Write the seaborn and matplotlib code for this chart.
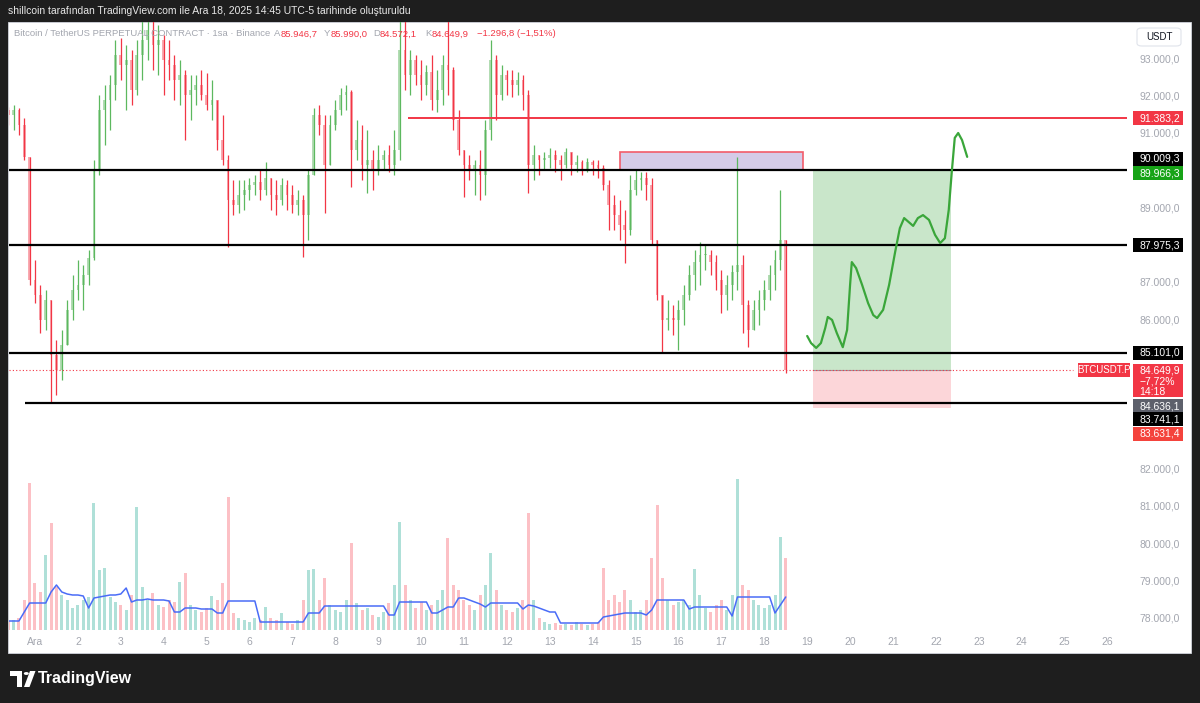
import numpy as np
import pandas as pd
import matplotlib

matplotlib.use("Agg")
import matplotlib.pyplot as plt
from matplotlib.patches import Rectangle, Polygon, Circle, FancyBboxPatch
import seaborn as sns

# BTCUSDT.P, 3-hour candles (prices in thousands USDT)
first_open = 91.60
closes = [
    91.47, 91.61, 91.20, 90.35, 87.05, 86.65, 85.98, 86.51, 85.04, 84.64,
    85.31, 86.25, 86.78, 86.92, 87.18, 87.64, 90.00, 91.61, 91.87, 92.28,
    93.08, 92.81, 92.95, 92.14, 93.08, 93.48, 93.75, 93.35, 93.48, 92.95,
    92.81, 92.41, 92.54, 92.01, 92.14, 92.28, 92.01, 91.74, 91.87, 90.80,
    90.27, 89.19, 89.06, 89.33, 89.46, 89.60, 89.68, 89.46, 89.78, 89.33,
    89.19, 89.60, 89.33, 89.06, 89.19, 88.79, 89.86, 91.47, 91.20, 90.13,
    91.20, 91.61, 92.01, 92.09, 90.53, 90.80, 90.13, 90.27, 90.00, 90.27,
    90.40, 90.13, 90.53, 93.21, 92.54, 92.95, 92.54, 92.28, 92.62, 91.87,
    92.14, 92.81, 92.68, 91.34, 90.53, 90.13, 90.00, 90.13, 89.86, 91.07,
    92.95, 92.01, 92.54, 92.41, 92.28, 92.41, 92.01, 90.13, 90.40, 90.27,
    90.32, 90.40, 90.27, 90.13, 90.48, 90.13, 90.21, 90.00, 90.21, 90.13,
    90.05, 89.60, 89.06, 88.79, 88.52, 88.39, 89.46, 89.73, 89.78, 89.60,
    88.12, 86.65, 85.98, 86.03, 85.98, 86.25, 86.65, 87.18, 87.53, 87.72,
    87.72, 87.53, 87.05, 86.65, 86.92, 87.26, 87.45, 86.38, 85.71, 86.25,
    86.51, 86.78, 87.18, 87.59, 88.12, 84.65,
]
highs = [
    91.69, 91.74, 91.66, 91.39, 90.35, 87.59, 86.92, 86.78, 86.51, 85.44,
    85.71, 86.51, 87.18, 87.59, 87.45, 87.85, 90.27, 92.01, 92.28, 92.54,
    93.48, 93.54, 93.35, 93.21, 93.48, 94.29, 94.42, 94.02, 93.88, 93.62,
    93.48, 93.08, 92.95, 92.68, 92.54, 92.54, 92.68, 92.60, 92.41, 91.87,
    91.47, 90.40, 89.73, 89.73, 89.73, 89.78, 89.86, 90.00, 90.21, 89.78,
    89.73, 89.78, 89.73, 89.60, 89.46, 89.33, 90.00, 91.66, 91.74, 91.47,
    91.47, 91.87, 92.20, 92.28, 92.14, 91.34, 91.20, 91.07, 90.53, 90.67,
    90.53, 90.67, 91.07, 94.42, 94.29, 93.21, 93.08, 92.95, 92.81, 93.08,
    92.68, 93.08, 94.55, 92.75, 91.61, 90.53, 90.40, 90.27, 90.53, 91.34,
    93.48, 93.08, 92.81, 92.68, 92.68, 92.62, 92.54, 92.14, 90.67, 90.40,
    90.48, 90.59, 90.53, 90.40, 90.59, 90.48, 90.40, 90.27, 90.32, 90.27,
    90.27, 90.13, 89.73, 89.33, 89.19, 88.93, 89.86, 90.00, 89.94, 89.94,
    89.78, 88.12, 86.65, 86.51, 86.38, 86.51, 86.92, 87.45, 87.85, 88.07,
    87.99, 87.85, 87.72, 87.32, 87.18, 87.45, 90.35, 87.72, 86.51, 86.51,
    86.78, 87.05, 87.45, 87.85, 89.46, 88.12,
]
lows = [
    91.20, 91.07, 90.94, 90.27, 86.92, 86.43, 85.63, 85.71, 83.75, 83.97,
    84.37, 85.31, 85.98, 86.51, 86.25, 86.92, 87.59, 89.86, 90.67, 91.07,
    91.87, 92.41, 91.61, 91.74, 92.01, 92.41, 92.95, 92.68, 92.54, 92.01,
    92.41, 91.87, 91.74, 90.80, 91.34, 91.74, 91.87, 91.61, 91.34, 90.53,
    90.13, 87.93, 88.79, 88.85, 88.93, 89.19, 89.33, 89.19, 89.33, 88.93,
    88.79, 89.06, 88.93, 88.85, 88.79, 87.67, 88.12, 89.86, 90.94, 88.85,
    90.13, 91.07, 91.47, 91.61, 89.54, 90.27, 89.73, 89.38, 89.46, 89.86,
    90.00, 89.94, 89.86, 90.27, 92.14, 92.01, 92.28, 91.87, 92.01, 91.61,
    91.55, 91.74, 92.01, 91.07, 90.40, 89.27, 89.73, 89.33, 89.19, 89.33,
    90.80, 91.34, 91.87, 92.01, 91.95, 92.01, 91.61, 89.38, 89.73, 89.86,
    90.00, 90.05, 89.94, 89.73, 90.05, 89.86, 89.94, 89.86, 89.94, 89.86,
    89.78, 89.46, 88.39, 88.39, 88.12, 87.51, 88.26, 89.33, 89.46, 89.19,
    87.99, 86.51, 85.09, 85.71, 85.58, 85.17, 85.84, 86.51, 86.78, 86.92,
    87.32, 87.18, 86.78, 86.17, 86.25, 86.51, 86.78, 85.63, 85.25, 85.71,
    85.84, 86.25, 86.51, 86.78, 87.32, 84.56,
]
volumes = [
    9, 10, 12, 30, 147, 47, 38, 75, 107, 43,
    35, 30, 22, 25, 30, 33, 127, 60, 62, 33,
    28, 25, 20, 35, 123, 43, 30, 37, 25, 23,
    30, 28, 48, 57, 25, 20, 18, 22, 34, 30,
    47, 133, 17, 12, 10, 8, 12, 10, 23, 12,
    10, 17, 8, 6, 10, 30, 60, 61, 30, 52,
    25, 20, 18, 30, 87, 27, 20, 22, 15, 13,
    18, 27, 45, 108, 45, 30, 22, 28, 20, 25,
    30, 40, 92, 45, 40, 30, 25, 20, 35, 45,
    77, 40, 25, 20, 18, 22, 30, 117, 30, 12,
    8, 6, 7, 5, 6, 5, 8, 6, 5, 6,
    8, 62, 30, 35, 28, 40, 30, 18, 20, 30,
    72, 125, 52, 30, 25, 28, 30, 25, 61, 35,
    22, 18, 25, 30, 20, 35, 151, 45, 40, 30,
    25, 22, 25, 35, 93, 72,
]
volume_ma = [
    9, 9, 9, 18, 27, 27, 27, 27, 38, 45,
    38, 36, 35, 35, 34, 22, 32, 33, 34, 35,
    35, 36, 42, 28, 30, 30, 31, 30, 30, 30,
    29, 18, 18, 22, 22, 22, 21, 21, 21, 17,
    17, 29, 29, 29, 29, 29, 29, 8, 8, 8,
    8, 8, 8, 8, 8, 8, 17, 17, 17, 24,
    24, 24, 24, 24, 24, 24, 24, 24, 24, 24,
    24, 15, 15, 28, 28, 28, 28, 28, 28, 17,
    17, 20, 23, 23, 32, 32, 30, 28, 26, 23,
    27, 27, 27, 27, 27, 27, 21, 25, 24, 22,
    20, 18, 18, 7, 7, 7, 7, 7, 7, 7,
    7, 13, 14, 15, 16, 17, 17, 17, 17, 15,
    20, 30, 30, 30, 30, 30, 30, 21, 23, 23,
    23, 23, 23, 23, 23, 14, 33, 33, 33, 33,
    33, 33, 33, 17, 25, 33,
]

# drawn levels
black_levels = [90009.3, 87975.3, 85101.0]
bottom_level = 83741.1
bottom_level_start = 0.77
red_level = 91383.2
red_level_start = 9.70
last_price = 84649.9
zone_days = (14.64, 18.90)
zone_prices = (90009.3, 90480.0)
long_days = (19.14, 22.35)
long_target = 89966.3
long_entry = 84636.1
long_stop = 83631.4

# hand-drawn projection path (day, price in thousands)
proj_days = [19.00, 19.09, 19.21, 19.32, 19.42, 19.48, 19.58, 19.69, 19.83, 19.93,
             20.00, 20.04, 20.14, 20.28, 20.42, 20.54, 20.63, 20.77, 20.91, 21.05,
             21.16, 21.26, 21.37, 21.47, 21.58, 21.70, 21.84, 21.98, 22.10, 22.21,
             22.30, 22.37, 22.44, 22.52, 22.61, 22.73]
proj_prices = [85.55, 85.36, 85.23, 85.36, 85.76, 86.06, 85.98, 85.63, 85.25, 85.71,
               86.92, 87.53, 87.37, 86.92, 86.43, 86.11, 86.03, 86.25, 86.92, 87.80,
               88.44, 88.71, 88.60, 88.50, 88.71, 88.79, 88.66, 88.26, 88.04, 88.17,
               88.93, 89.94, 90.86, 90.99, 90.80, 90.35]

day_ticks = list(range(1, 27))
day_labels = ["Ara"] + [str(d) for d in range(2, 27)]
price_ticks = [78000, 79000, 80000, 81000, 82000, 86000, 87000, 89000, 91000, 92000, 93000]

W, H = 1200, 703
GREEN_WICK, GREEN_BODY = "#5cb85f", "#b2dcb3"
RED_WICK, RED_BODY = "#f23645", "#f8aab1"
GREY = "#a3a6af"


def tr(v):
    s = f"{v:,.1f}"
    return s.replace(",", "X").replace(".", ",").replace("X", ".")


sns.set_theme(style="white")
plt.rcParams["font.family"] = ["Liberation Sans", "DejaVu Sans"]

times = pd.date_range("2025-11-30 09:00", periods=len(closes), freq="3h")
df = pd.DataFrame({
    "x": (times - pd.Timestamp("2025-11-30")) / pd.Timedelta("1D"),
    "close": np.array(closes) * 1000,
    "high": np.array(highs) * 1000,
    "low": np.array(lows) * 1000,
    "volume": volumes,
    "vol_ma": volume_ma,
})
df["open"] = df["close"].shift(1).fillna(first_open * 1000)
df["high"] = df[["high", "open", "close"]].max(axis=1)
df["low"] = df[["low", "open", "close"]].min(axis=1)
up = (df["close"] >= df["open"]).to_numpy()

fig = plt.figure(figsize=(W / 100, H / 100), dpi=100, facecolor="#1e1e1e")
fig.patches.append(Rectangle((8 / W, 1 - 653 / H), (1191 - 8) / W, (653 - 22) / H,
                             transform=fig.transFigure, facecolor="white",
                             edgecolor="#d1d4dc", lw=0.6, zorder=-1))

ax = fig.add_axes([9 / W, 1 - 630 / H, (1127 - 9) / W, 608 / H])
ax.set_facecolor("none")
xmin, xmax = 0.394, 26.455
ax.set_xlim(xmin, xmax)
ax.set_ylim(77670, 93965)

# volume pane (twin axis, drawn first so the price ticks stay on the right)
vax = ax.twinx()
vax.set_ylim(0, 608)
vax.bar(df["x"], df["volume"], width=0.07, linewidth=0,
        color=np.where(up, "#22ab94", "#f7525f"), alpha=0.36, zorder=1)
sns.lineplot(data=df, x="x", y="vol_ma", ax=vax, color="#4a6cf7", lw=1.1)
vax.set_yticks([])
vax.set_xlabel("")
vax.set_ylabel("")
for s in vax.spines.values():
    s.set_visible(False)

# candles
ax.vlines(df["x"], df["low"], df["high"], colors=np.where(up, GREEN_WICK, RED_WICK), lw=0.9, zorder=3)
body_low = df[["open", "close"]].min(axis=1)
body_h = (df["close"] - df["open"]).abs().clip(lower=25)
ax.bar(df["x"], body_h, bottom=body_low, width=0.065,
       color=np.where(up, GREEN_BODY, RED_BODY), linewidth=0, zorder=2)

# levels
for lv in black_levels:
    ax.hlines(lv, xmin, xmax, color="black", lw=1.6, zorder=4)
ax.hlines(bottom_level, bottom_level_start, xmax, color="black", lw=1.6, zorder=4)
ax.hlines(red_level, red_level_start, xmax, color="#f23645", lw=1.4, zorder=4)
ax.hlines(last_price, xmin, 25.2, color="#f23645", lw=0.8, linestyles=(0, (1, 2)), zorder=4)

# purple zone
ax.add_patch(Rectangle((zone_days[0], zone_prices[0]), zone_days[1] - zone_days[0],
                       zone_prices[1] - zone_prices[0], facecolor="#d5cce8",
                       edgecolor="#f25c6a", lw=1.2, zorder=1))

# long position tool
ax.add_patch(Rectangle((long_days[0], long_entry), long_days[1] - long_days[0],
                       long_target - long_entry, facecolor="#4caf50", alpha=0.3,
                       lw=0, zorder=1))
ax.add_patch(Rectangle((long_days[0], long_stop), long_days[1] - long_days[0],
                       long_entry - long_stop, facecolor="#f23645", alpha=0.2,
                       lw=0, zorder=1))
ax.hlines(long_entry, long_days[0], long_days[1], color="#9598a1", lw=0.8, zorder=2)

# projection
proj = pd.DataFrame({"day": proj_days, "price": np.array(proj_prices) * 1000})
sns.lineplot(data=proj, x="day", y="price", sort=False, ax=ax, color="#3aa63a",
             lw=1.6, zorder=5)

# axes
for s in ax.spines.values():
    s.set_visible(False)
ax.set_xlabel("")
ax.set_ylabel("")
ax.set_xticks(day_ticks)
ax.set_xticklabels(day_labels, color=GREY, fontsize=7.5)
ax.yaxis.set_ticks_position("right")
ax.yaxis.set_label_position("right")
ax.set_yticks(price_ticks)
ax.set_yticklabels([tr(p) for p in price_ticks], color=GREY, fontsize=7.5)
ax.tick_params(axis="x", length=0, pad=5)
ax.tick_params(axis="y", which="both", length=0, pad=9, labelleft=False, labelright=True)
ax.grid(False)


def price_tag(price, lines, color, dy=0):
    y = ax.transData.transform((xmin, price))[1] + dy
    h = 14 if len(lines) == 1 else 33
    top = y + 7
    fig.patches.append(Rectangle((1133 / W, (top - h) / H), 50 / W, h / H,
                                 transform=fig.transFigure, facecolor=color,
                                 lw=0, zorder=5))
    for k, txt in enumerate(lines):
        fig.text(1139 / W, (top - 7 - k * 10.5) / H, txt, color="white",
                 fontsize=7.5, va="center", ha="left", zorder=6)


price_tag(red_level, [tr(red_level)], "#f23645")
price_tag(black_levels[0], [tr(black_levels[0])], "black", dy=11)
price_tag(long_target, [tr(long_target)], "#17a317", dy=-2)
price_tag(black_levels[1], [tr(black_levels[1])], "black")
price_tag(black_levels[2], [tr(black_levels[2])], "black")
price_tag(last_price, [tr(last_price), "−7,72%", "14:18"], "#f23645", dy=-1)
price_tag(long_entry, [tr(long_entry)], "#5d606b", dy=-36)
price_tag(bottom_level, [tr(bottom_level)], "black", dy=-16)
price_tag(long_stop, [tr(long_stop)], "#f4433c", dy=-26)

# symbol label next to the price box
ylp = ax.transData.transform((xmin, last_price))[1]
fig.patches.append(Rectangle((1078 / W, (ylp - 7) / H), 52 / W, 14 / H,
                             transform=fig.transFigure, facecolor="#f23645",
                             lw=0, zorder=5))
fig.text(1104 / W, ylp / H, "BTCUSDT.P", color="white", fontsize=7,
         ha="center", va="center", zorder=6)

# USDT box
fig.patches.append(FancyBboxPatch((1137 / W, 1 - 46 / H), 44 / W, 18 / H,
                                  boxstyle="round,pad=0,rounding_size=0.004",
                                  transform=fig.transFigure, facecolor="white",
                                  edgecolor="#e0e3eb", lw=0.8, zorder=5))
fig.text(1159 / W, 1 - 37 / H, "USDT", color="#131722", fontsize=7,
         ha="center", va="center", zorder=6)

# header and legend
fig.text(8 / W, 1 - 11 / H, "shillcoin tarafından TradingView.com ile Ara 18, 2025 14:45 UTC-5 tarihinde oluşturuldu",
         color="#e8e8e8", fontsize=7.5, va="center")
legend_parts = [
    (14, "Bitcoin / TetherUS PERPETUAL CONTRACT · 1sa · Binance", GREY),
    (274, "A", GREY), (281, "85.946,7", RED_WICK),
    (324, "Y", GREY), (331, "85.990,0", RED_WICK),
    (373, "D", GREY), (380, "84.572,1", RED_WICK),
    (425, "K", GREY), (432, "84.649,9", RED_WICK),
    (477, "−1.296,8 (−1,51%)", RED_WICK),
]
for px, txt, col in legend_parts:
    fig.text(px / W, 1 - 34 / H, txt, color=col, fontsize=6.8, va="center", zorder=6)

# TradingView logo
def fp(x, y):
    return (x / W, 1 - y / H)


fig.patches.append(Polygon([fp(10, 671), fp(22, 671), fp(22, 687), fp(17, 687),
                            fp(17, 676), fp(10, 676)], closed=True,
                           transform=fig.transFigure, facecolor="white", lw=0))
fig.patches.append(Polygon([fp(30, 671), fp(35.5, 671), fp(29.5, 687), fp(24, 687)],
                           closed=True, transform=fig.transFigure, facecolor="white", lw=0))
fig.patches.append(Circle((26.3 / W, 1 - 673.5 / H), 2.5 / W, transform=fig.transFigure,
                          facecolor="white", lw=0))
fig.text(38 / W, 1 - 679 / H, "TradingView", color="white", fontsize=11.5,
         fontweight="bold", va="center")

fig.savefig("out.png", dpi=100, facecolor=fig.get_facecolor())
